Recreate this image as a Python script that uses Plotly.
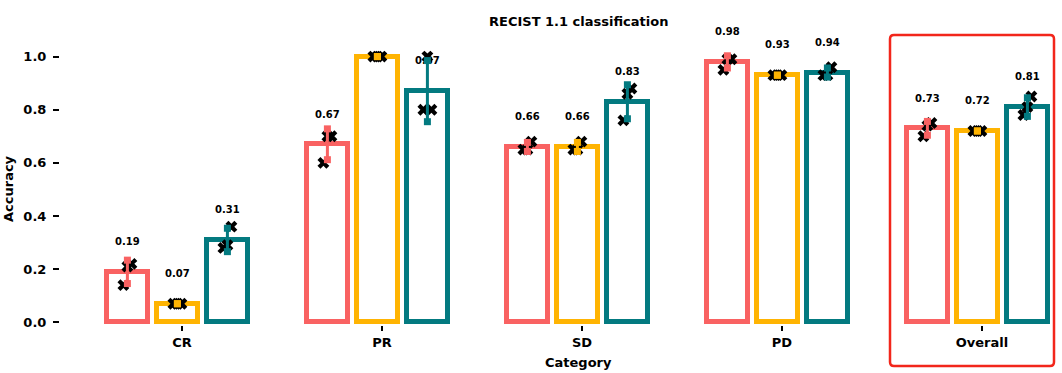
import plotly.graph_objects as go

# ---------------- data ----------------
categories = ["CR", "PR", "SD", "PD", "Overall"]
series_names = ["Group A", "Group B", "Group C"]

means_a = [0.19, 0.67, 0.66, 0.98, 0.73]
means_b = [0.07, 1.00, 0.66, 0.93, 0.72]
means_c = [0.31, 0.87, 0.83, 0.94, 0.81]

err_a = [0.044, 0.058, 0.017, 0.023, 0.026]
err_b = [0.0, 0.0, 0.017, 0.0, 0.0]
err_c = [0.044, 0.115, 0.064, 0.017, 0.035]

points_a = [[0.22, 0.21, 0.14], [0.70, 0.70, 0.60], [0.68, 0.65, 0.65], [0.99, 0.99, 0.95], [0.75, 0.74, 0.70]]
points_b = [[0.07, 0.07, 0.07], [1.00, 1.00, 1.00], [0.68, 0.65, 0.65], [0.93, 0.93, 0.93], [0.72, 0.72, 0.72]]
points_c = [[0.36, 0.29, 0.28], [0.80, 1.00, 0.80], [0.88, 0.86, 0.76], [0.96, 0.93, 0.93], [0.85, 0.81, 0.78]]

y_ticks = [0.0, 0.2, 0.4, 0.6, 0.8, 1.0]

# ---------------- style ----------------
colors = ["#F96262", "#FFB402", "#037A80"]
FONT = "DejaVu Sans"
shift = -0.023
offsets = [-0.25 + shift, 0.0 + shift, 0.25 + shift]
jitter = [0.02, 0.0, -0.02]
bar_w = 0.205
label_gap = 0.11
x_range = [-0.61, 4.4]
y_range = [-0.01, 1.1]

all_means = [means_a, means_b, means_c]
all_err = [err_a, err_b, err_c]
all_pts = [points_a, points_b, points_c]

fig = go.Figure()

# bars
for s in range(3):
    fig.add_trace(go.Bar(
        x=[i + offsets[s] for i in range(len(categories))],
        y=all_means[s],
        width=bar_w,
        marker=dict(color="white", line=dict(color=colors[s], width=5)),
        name=series_names[s],
        showlegend=False,
        hoverinfo="skip",
    ))

# value labels (trace layer so error bars can sit on top)
for s in range(3):
    fig.add_trace(go.Scatter(
        x=[i + offsets[s] for i in range(len(categories))],
        y=[m + label_gap for m in all_means[s]],
        mode="text",
        text=[f"{m:.2f}" for m in all_means[s]],
        textfont=dict(family=FONT, size=10, color="black", weight="bold"),
        textposition="middle center",
        showlegend=False,
        cliponaxis=False,
        hoverinfo="skip",
    ))

# individual points
for s in range(3):
    xs, ys = [], []
    for i, pts in enumerate(all_pts[s]):
        for k, v in enumerate(pts):
            xs.append(i + offsets[s] + jitter[k])
            ys.append(v)
    fig.add_trace(go.Scatter(
        x=xs, y=ys, mode="markers",
        marker=dict(symbol="x", size=10.5, color="black", line=dict(width=0)),
        showlegend=False, cliponaxis=False, hoverinfo="skip",
    ))

# error bars with square caps
for s in range(3):
    xs, ys = [], []
    for i, (m, e) in enumerate(zip(all_means[s], all_err[s])):
        x = i + offsets[s]
        xs += [x, x, None]
        ys += [m - e, m + e, None]
    fig.add_trace(go.Scatter(
        x=xs, y=ys, mode="lines+markers",
        line=dict(color=colors[s], width=3),
        marker=dict(symbol="square", size=7, color=colors[s]),
        showlegend=False, cliponaxis=False, hoverinfo="skip",
    ))

# highlight box around "Overall"
W, H = 1062, 373
ml, mr, mt, mb = 60, 0, 30, 48
pw, ph = W - ml - mr, H - mt - mb


def px_x(v):
    return (v - x_range[0]) / (x_range[1] - x_range[0])


idx = categories.index("Overall")
bx0 = px_x(idx - 0.46)
bx1 = px_x(idx + 0.36)
by1 = 1 - 5 / ph
by0 = -41 / ph
rx, ry = 4 / pw, 4 / ph
path = (f"M {bx0+rx},{by1} L {bx1-rx},{by1} Q {bx1},{by1} {bx1},{by1-ry} "
        f"L {bx1},{by0+ry} Q {bx1},{by0} {bx1-rx},{by0} "
        f"L {bx0+rx},{by0} Q {bx0},{by0} {bx0},{by0+ry} "
        f"L {bx0},{by1-ry} Q {bx0},{by1} {bx0+rx},{by1} Z")
fig.add_shape(type="path", path=path, xref="paper", yref="paper",
              line=dict(color="#F2261B", width=2.5), layer="above")

tickfont = dict(family=FONT, size=13, color="black", weight="bold")
fig.update_layout(
    width=W, height=H,
    margin=dict(l=ml, r=mr, t=mt, b=mb),
    plot_bgcolor="white", paper_bgcolor="white",
    bargap=0, barmode="overlay",
    xaxis=dict(
        range=x_range, tickvals=list(range(len(categories))), ticktext=categories,
        showgrid=False, zeroline=False, showline=False,
        ticks="outside", ticklen=5, tickwidth=1.5, tickcolor="black",
        tickfont=tickfont,
    ),
    yaxis=dict(
        range=y_range, tickvals=y_ticks, ticktext=[f"{v:.1f}" for v in y_ticks],
        showgrid=False, zeroline=False, showline=False,
        ticks="outside", ticklen=6, tickwidth=1.5, tickcolor="black",
        tickfont=tickfont, ticklabelstandoff=4,
    ),
    annotations=[
        dict(text="RECIST 1.1 classification", xref="paper", yref="paper",
             x=(578 - ml) / pw, y=1 + (mt - 22) / ph, xanchor="center", yanchor="middle",
             showarrow=False, font=dict(family=FONT, size=13, color="black", weight="bold")),
        dict(text="Category", xref="paper", yref="paper",
             x=(578 - ml) / pw, y=-(362 - (mt + ph)) / ph, xanchor="center", yanchor="middle",
             showarrow=False, font=dict(family=FONT, size=13, color="black", weight="bold")),
        dict(text="Accuracy", xref="paper", yref="paper", textangle=-90,
             x=-(ml - 8) / pw, y=1 - (189 - mt) / ph, xanchor="center", yanchor="middle",
             showarrow=False, font=dict(family=FONT, size=13, color="black", weight="bold")),
    ],
)

fig.write_html("out.html", config={"displayModeBar": False},
               post_script="document.body.style.margin='0';")
